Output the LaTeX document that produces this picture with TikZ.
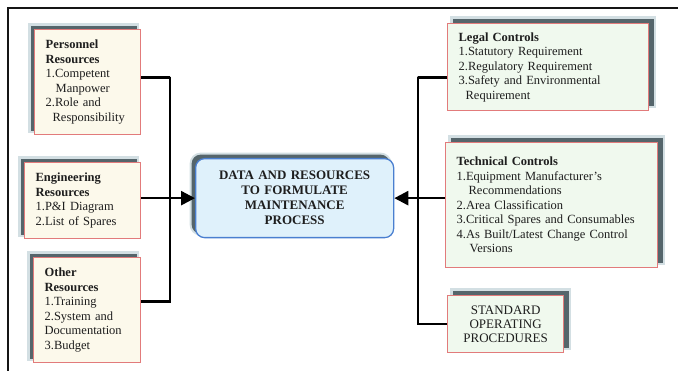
\documentclass[tikz,border=0pt]{standalone}
\usepackage{fontspec}
\setmainfont{Liberation Serif}
\usetikzlibrary{arrows.meta,shadows}

\definecolor{framec}{HTML}{151515}
\definecolor{edgec}{HTML}{E27B7B}
\definecolor{creamc}{HTML}{FCF9EB}
\definecolor{mintc}{HTML}{F0F9EE}
\definecolor{shadec}{HTML}{55656B}
\definecolor{haloc}{HTML}{D3DFE3}
\definecolor{hubfill}{HTML}{DFF1FB}
\definecolor{hubedge}{HTML}{4A7FD0}
\definecolor{inkc}{HTML}{1E1E1E}

\tikzset{
  x=1pt, y=-1pt,
  every node/.style={text=inkc},
  % offset card with a dark drop shadow and a faint halo around it
  card/.style={draw=edgec, line width=1.3pt, anchor=north west,
    inner xsep=11pt, inner ysep=2pt, align=left,
    font=\fontsize{12.5}{14.5}\selectfont},
  leftcard/.style={card, fill=creamc,
    general shadow={fill=haloc, draw=haloc, line width=5pt, shadow xshift=-4pt, shadow yshift=4pt},
    general shadow={fill=shadec, shadow xshift=-4pt, shadow yshift=4pt}},
  rightcard/.style={card, fill=mintc,
    general shadow={fill=haloc, draw=haloc, line width=5pt, shadow xshift=5pt, shadow yshift=5pt},
    general shadow={fill=shadec, shadow xshift=5pt, shadow yshift=5pt}},
  hub/.style={draw=hubedge, line width=1.3pt, fill=hubfill, rounded corners=9pt,
    anchor=north west, align=center, inner sep=2pt,
    font=\fontsize{13}{15}\selectfont\bfseries,
    general shadow={fill=haloc, draw=haloc, line width=4pt, shadow xshift=-4pt, shadow yshift=4pt},
    general shadow={fill=shadec, shadow xshift=-4pt, shadow yshift=4pt}},
  conn/.style={draw=black, line width=2.5pt},
  feed/.style={conn, -{Stealth[inset=0pt, length=14pt, width=14pt]}},
}

\begin{document}
\begin{tikzpicture}
\useasboundingbox (0,0) rectangle (678,371);

% partial outer frame
\draw[framec, line width=1.4pt] (8,371) -- (8,8) -- (678,8);

% resource cards on the left
\node[leftcard, text width=84pt, minimum height=105pt] (pers) at (34,29)
  {\textbf{Personnel}\\\textbf{Resources}\\1.Competent\\\hspace*{10pt}Manpower\\2.Role and\\\hspace*{7pt}Responsibility};
\node[leftcard, text width=94pt, minimum height=76pt] (eng) at (24,162)
  {\textbf{Engineering}\\\textbf{Resources}\\1.P\&I Diagram\\2.List of Spares};
\node[leftcard, text width=85pt, minimum height=105pt] (oth) at (33,257)
  {\textbf{Other}\\\textbf{Resources}\\1.Training\\2.System and\\Documentation\\3.Budget};

% central process box
\node[hub, text width=194pt, minimum height=79pt] (hub) at (195,158)
  {DATA AND RESOURCES\\TO FORMULATE\\MAINTENANCE\\PROCESS};

% control cards on the right
\node[rightcard, text width=179pt, minimum height=87pt] (legal) at (447,23)
  {\textbf{Legal Controls}\\1.Statutory Requirement\\2.Regulatory Requirement\\3.Safety and Environmental\\\hspace*{7pt}Requirement};
\node[rightcard, text width=190pt, minimum height=125pt] (tech) at (445,142)
  {\textbf{Technical Controls}\\1.Equipment Manufacturer's\\\hspace*{12pt}Recommendations\\2.Area Classification\\3.Critical Spares and Consumables\\4.As Built/Latest Change Control\\\hspace*{13pt}Versions};
\node[rightcard, text width=94pt, minimum height=57pt, align=center,
      font=\fontsize{13}{14}\selectfont] (sop) at (447,295)
  {STANDARD\\OPERATING\\PROCEDURES};

% collecting buses
\coordinate (lbus) at (170,77);
\coordinate (rbus) at (418,77);

\draw[conn] ([yshift=4.5pt]pers.east) -| (lbus) |- ([yshift=8.5pt]oth.east);
\draw[feed] (eng.east |- hub.west) -- (hub.west);

\draw[conn] ([yshift=-10.5pt]legal.west) -| (rbus) |- (sop.west);
\draw[feed] (tech.west |- hub.east) -- (hub.east);
\end{tikzpicture}
\end{document}
